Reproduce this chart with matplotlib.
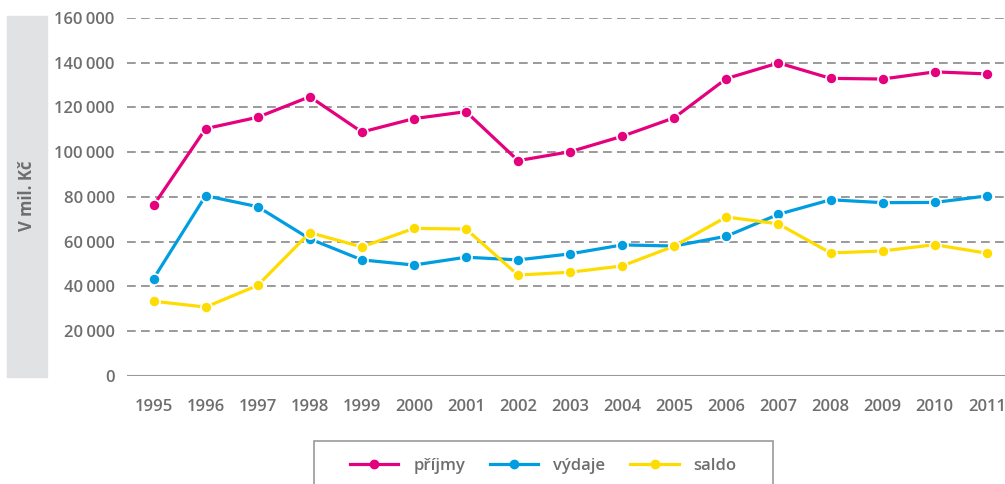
import numpy as np
import matplotlib.pyplot as plt
from matplotlib.patches import Rectangle
from matplotlib.lines import Line2D

years = np.arange(1995, 2012)
prijmy = [76200, 110500, 115600, 124800, 109000, 115000, 118100, 96200, 100200,
          107100, 115400, 132900, 139900, 133000, 132700, 135900, 135000]
vydaje = [43400, 80500, 75600, 61200, 51800, 49500, 53000, 51800, 54500,
          58500, 58000, 62400, 72200, 78700, 77400, 77500, 80400]
saldo = [33300, 30700, 40400, 64000, 57600, 65900, 65600, 45000, 46300,
         49100, 58000, 71000, 67900, 54900, 55800, 58600, 54800]
names = ['příjmy', 'výdaje', 'saldo']
colors = ['#e5007d', '#009ee0', '#ffdc00']
yticks = [0, 20000, 40000, 60000, 80000, 100000, 120000, 140000, 160000]

fnt = ['Open Sans', 'DejaVu Sans']
grey = '#6e6e6e'

fig = plt.figure(figsize=(10.05, 4.84), dpi=100)
ax = fig.add_axes([127/1005, (484-375.7)/484, 1-127/1005, (375.7-18)/484])

for t in yticks:
    if t == 0:
        ax.axhline(t, color='#999999', lw=1.5, zorder=1)
    else:
        ax.axhline(t, color='#9a9a9a', lw=1.4, ls=(0, (4.5, 2.7)), zorder=1)

for vals, c in zip([prijmy, vydaje, saldo], colors):
    ax.plot(years, vals, color=c, lw=2.3, marker='o', ms=8,
            mec='white', mew=1.2, zorder=3, clip_on=False)

ax.set_xlim(1994.49, 2011.35)
ax.set_ylim(0, 160000)
ax.set_xticks(years)
ax.set_yticks(yticks)
ax.set_yticklabels([f'{t:,}'.replace(',', '\u2009') for t in yticks])
for s in ax.spines.values():
    s.set_visible(False)
ax.tick_params(length=0, colors=grey, labelsize=12)
ax.tick_params(axis='y', pad=9)
ax.tick_params(axis='x', pad=17)
for lab in ax.get_xticklabels() + ax.get_yticklabels():
    lab.set_family(fnt)
    lab.set_fontweight('semibold')

# y label box
fig.patches.append(Rectangle((7/1005, (484-376.7)/484), 40/1005, 361/484,
                             transform=fig.transFigure, color='#e1e2e4', zorder=0))
fig.text(27/1005, 1-196/484, 'V mil. Kč', rotation=90, ha='center', va='center',
         color=grey, fontsize=12, fontweight='bold', family=fnt)

# legend
fig.patches.append(Rectangle((314/1005, -0.05), (773-314)/1005, 0.05+(484-441)/484,
                             transform=fig.transFigure, fill=False, ec='#999999', lw=1.2))
handles = [Line2D([], [], color=c, lw=2.3, marker='o', ms=6, mec=c) for c in colors]
leg = fig.legend(handles, names, loc='center left', bbox_to_anchor=(335/1005, 1-466/484),
                 ncol=3, frameon=False, handlelength=2.9, handletextpad=0.9,
                 columnspacing=1.5, prop={'family': fnt, 'size': 12, 'weight': 'semibold'})
for txt in leg.get_texts():
    txt.set_color(grey)

fig.savefig('out.png', dpi=100)
